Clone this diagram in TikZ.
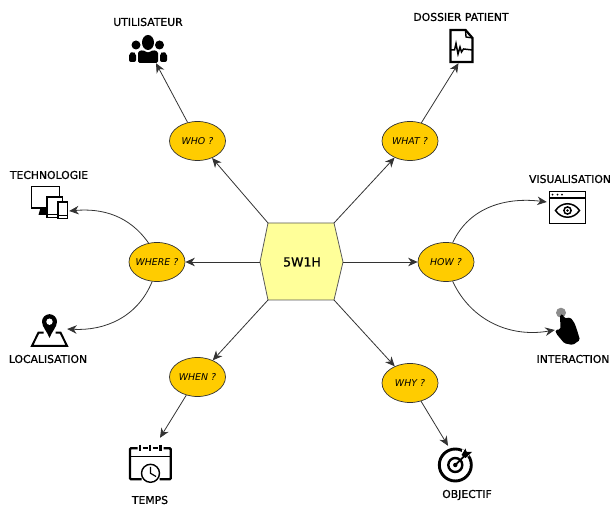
\documentclass[tikz,border=0pt]{standalone}
\usepackage{fontspec}
\setmainfont{DejaVu Sans}
\newfontfamily\lblfont[FakeBold=1]{DejaVu Sans}
\usetikzlibrary{arrows.meta,shapes.geometric}
\definecolor{colorq}{HTML}{FFCC00}
\definecolor{colorhub}{HTML}{FFFF99}
\definecolor{colorline}{HTML}{333333}
\tikzset{
  qnode/.style={ellipse,draw=colorline,fill=colorq,line width=0.7pt,minimum width=56pt,minimum height=39pt,inner xsep=-8pt,inner ysep=0pt,font=\fontsize{9.4}{11}\selectfont\itshape},
  lbl/.style={inner sep=0pt,font=\fontsize{10.8}{12}\lblfont},
  icon/.style={inner sep=0pt,minimum width=#1},
  edgeq/.style={colorline,line width=0.8pt,-{Stealth[length=9.5pt,width=8.5pt,inset=3pt]}},
  hubface/.style={draw=black!65,fill=colorhub,line width=0.8pt},
  ink/.style={line width=2.2pt,black}
}
\begin{document}
\begin{tikzpicture}[x=1pt,y=1pt]
\useasboundingbox (0,0) rectangle (612,505);
% hub
\coordinate (hubNW) at (268,282);
\coordinate (hubNE) at (334,282);
\coordinate (hubE) at (343,243);
\coordinate (hubSE) at (334,205);
\coordinate (hubSW) at (268,205);
\coordinate (hubW) at (260,243);
\draw[hubface] (hubNW) -- (hubNE) -- (hubE) -- (hubSE) -- (hubSW) -- (hubW) -- cycle;
\node[lbl] (hub) at (302,243) {\fontsize{12.5}{14}\lblfont 5W1H};
% questions
\node[qnode] (who) at (197.5,364) {WHO ?};
\node[qnode] (what) at (410,364) {WHAT ?};
\node[qnode] (where) at (157,243) {WHERE ?};
\node[qnode] (how) at (446,243) {HOW ?};
\node[qnode] (when) at (197.5,128) {WHEN ?};
\node[qnode] (why) at (410,122) {WHY ?};
% icon boxes
\node[icon=38pt,minimum height=29pt] (iconuser) at (148,456.5) {};
\node[icon=25pt,minimum height=34pt] (icondoc) at (461.5,459) {};
\node[icon=37pt,minimum height=33pt] (icontech) at (49.5,302.5) {};
\node[icon=37pt,minimum height=33pt] (iconvis) at (567.5,297.5) {};
\node[icon=37pt,minimum height=34pt] (iconloc) at (49.5,175) {};
\node[icon=25pt,minimum height=38pt] (iconhand) at (567.5,179) {};
\node[icon=43pt,minimum height=36pt] (iconcal) at (150.5,42) {};
\node[icon=37pt,minimum height=36pt] (icontarget) at (454.5,41) {};
% labels
\node[lbl] (lbluser) at (148,483) {UTILISATEUR};
\node[lbl] (lbldoc) at (461,488) {DOSSIER PATIENT};
\node[lbl] (lbltech) at (49,330) {TECHNOLOGIE};
\node[lbl] (lblvis) at (570,326) {VISUALISATION};
\node[lbl] (lblloc) at (48,146) {LOCALISATION};
\node[lbl] (lblhand) at (573,146) {INTERACTION};
\node[lbl] (lblcal) at (150,5) {TEMPS};
\node[lbl] (lbltarget) at (467,10) {OBJECTIF};
% edges
\draw[edgeq] (hubNW) -- (who);
\draw[edgeq] (hubNE) -- (what);
\draw[edgeq] (hubW) -- (where);
\draw[edgeq] (hubE) -- (how);
\draw[edgeq] (hubSW) -- (when);
\draw[edgeq] (hubSE) -- (why);
\draw[edgeq] (who) -- ([xshift=8pt]iconuser.south);
\draw[edgeq] (what) -- ([xshift=-3pt]icondoc.south);
\draw[edgeq] (when) -- ([xshift=9.5pt,yshift=7pt]iconcal.north);
\draw[edgeq] (why) -- ([xshift=-6.5pt]icontarget.north);
\draw[edgeq] (where.114) to [out=125,in=5] ([yshift=-8.5pt,xshift=1pt]icontech.east);
\draw[edgeq] (where.-104) to [out=-112,in=-3] ([yshift=1pt,xshift=-1pt]iconloc.east);
\draw[edgeq] (how.71) to [out=65,in=173] ([yshift=5.5pt,xshift=-2pt]iconvis.west);
\draw[edgeq] (how.-71) to [out=-65,in=190] ([yshift=-4pt]iconhand.west);
% user icon
\begin{scope}[shift={(iconuser.center)}]
\fill (0,6) ellipse (6 and 7.5);
\fill (-12,3.5) circle (4.5);
\fill (11.5,3.5) circle (4.5);
\fill[rounded corners=1.5pt] (-10,-14.5) -- (-10,-3) -- (-5,-1.5) -- (-1,-4) -- (1,-4) -- (5,-1.5) -- (10,-3) -- (10,-14.5) -- cycle;
\fill[rounded corners=2pt] (-19,-13.5) -- (-19,-5) -- (-15,-3) -- (-12,-5) -- (-12,-13.5) -- cycle;
\fill[rounded corners=2pt] (19,-13.5) -- (19,-5) -- (15,-3) -- (12,-5) -- (12,-13.5) -- cycle;
\end{scope}
% doc icon
\begin{scope}[shift={(icondoc.center)}]
\draw[ink,line join=miter] (-11,16) -- (4,16) -- (11,8) -- (11,-16) -- (-11,-16) -- cycle;
\draw[line width=1.4pt] (4,16) -- (4.5,9) -- (11,8);
\draw[line width=1.5pt] (-11,-4) -- (-7,-4) -- (-5.5,2.5) -- (-3.5,-8) -- (-1.5,-1) -- (0,-6) -- (2,-3) -- (11,-4);
\end{scope}
% tech icon
\begin{scope}[shift={(icontech.center)}]
\fill (-9,-5.5) -- (-2,-5.5) -- (-2,-12.5) -- (-11,-12.5) -- cycle;
\draw[line width=1.5pt] (-18,16) rectangle (10,-5.5);
\draw[line width=1.2pt,fill=white] (-2.5,5.5) rectangle (13,-15);
\draw[line width=1pt] (-2.5,-12.5) -- (13,-12.5);
\draw[line width=1.3pt,fill=white] (8.5,0.5) rectangle (18,-16);
\draw[line width=1pt] (8.5,-13.5) -- (18,-13.5);
\end{scope}
% window icon
\begin{scope}[shift={(iconvis.center)}]
\draw[line width=1.5pt] (-18,16) rectangle (18,-16);
\draw[line width=1.1pt] (-18,9.5) -- (18,9.5);
\foreach \dotx in {-15,-10,-5.5} \fill (\dotx,12.8) circle (1);
\draw[line width=1.5pt] (-12,-3) .. controls (-6,6) and (6,6) .. (12,-3) .. controls (6,-12) and (-6,-12) .. cycle;
\draw[line width=1.5pt] (0,-3) circle (3.6);
\fill (0,-3) circle (1.4);
\end{scope}
% location icon
\begin{scope}[shift={(iconloc.center)}]
\draw[line width=2pt] (-6,-2.7) -- (-11,-2.7) -- (-17.5,-15.8) -- (17.5,-15.8) -- (11,-2.7) -- (6,-2.7);
\fill (-7.5,8.3) arc (180:0:7.5) .. controls (7.5,3) and (2,-2) .. (0,-8) .. controls (-2,-2) and (-7.5,3) .. cycle;
\fill[white] (0,8.3) circle (3.2);
\end{scope}
% hand icon
\begin{scope}[shift={(iconhand.center)}]
\fill[black!45] (-6.5,13.3) circle (5);
\fill[rounded corners=1.5pt] (-7.5,11) -- (-4.8,12) -- (-3.2,7.7) -- (3,8.5) -- (7,3) -- (9.5,-4) -- (12.5,-14) -- (5.2,-19) -- (-3.2,-17.3) -- (-11.5,-7.3) -- (-12.2,-4) -- (-7,-3.3) -- cycle;
\end{scope}
% calendar icon
\begin{scope}[shift={(iconcal.center)}]
\draw[line width=2.4pt,rounded corners=1pt] (-13,14.7) -- (-20.5,14.7) -- (-20.5,-16.3) -- (-9,-16.3);
\draw[line width=2.4pt,rounded corners=1pt] (13,14.7) -- (20.2,14.7) -- (20.2,-16.3) -- (9,-16.3);
\draw[line width=2.4pt] (-8,14.7) -- (-3,14.7) (2,14.7) -- (7,14.7);
\draw[line width=0.9pt] (-20.5,6.3) -- (20.2,6.3);
\foreach \tabx in {-10.5,-0.5,10} \draw[line width=2.8pt] (\tabx,18) -- (\tabx,12);
\draw[line width=1.4pt] (0,-10.3) circle (9);
\draw[line width=1.2pt] (0,-4) -- (0,-10.3) -- (5.5,-13.5);
\end{scope}
% target icon
\begin{scope}[shift={(icontarget.center)}]
\draw[line width=2.9pt] (0.8,-1) circle (16);
\draw[line width=2.4pt] (0.8,-1) circle (7);
\fill[white] (6,6) -- (15,8) -- (8,15) -- cycle;
\fill (0.8,-1) circle (2.2);
\draw[line width=1.8pt] (0.8,-1) -- (11,9);
\fill (7,9) -- (11,15.5) -- (12,12) -- (17.5,12) -- (13,8) -- (11,6) -- cycle;
\end{scope}
\end{tikzpicture}
\end{document}
